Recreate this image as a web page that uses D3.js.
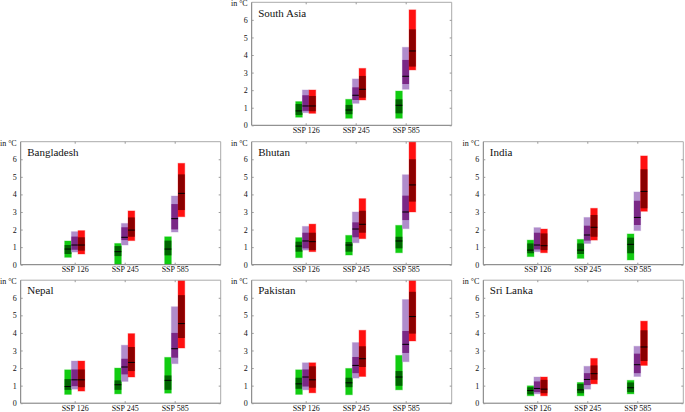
<!DOCTYPE html>
<html>
<head>
<meta charset="utf-8">
<script src="https://cdn.jsdelivr.net/npm/d3@7"></script>
<style>
  html, body { margin: 0; padding: 0; background: #fff; }
  svg { display: block; }
  svg text { font-family: "Liberation Serif", "Times New Roman", Times, serif !important; fill: #111; }
</style>
</head>
<body>
<svg id="chart" width="685" height="412"></svg>
<script>
// ---- data ----
const scenarios = ["SSP 126", "SSP 245", "SSP 585"];
const periods = ["near", "mid", "long"];
const yTicks = [0, 1, 2, 3, 4, 5, 6];
const unitLabel = "in °C";
const regions = ["South Asia", "Bangladesh", "Bhutan", "India", "Nepal", "Pakistan", "Sri Lanka"];

// each: per scenario, per period: [outerLo, innerLo, median, innerHi, outerHi]
const southAsia = [
  [[0.46, 0.59, 0.82, 1.21, 1.35], [0.72, 0.82, 1.10, 1.71, 2.01], [0.68, 0.80, 1.10, 1.67, 2.01]],
  [[0.40, 0.63, 0.87, 1.16, 1.48], [1.25, 1.44, 1.71, 2.16, 2.64], [1.44, 1.57, 2.05, 2.81, 3.24]],
  [[0.40, 0.68, 1.14, 1.48, 1.95], [2.05, 2.35, 2.79, 3.72, 4.44], [3.15, 3.34, 4.23, 5.46, 6.57]]
];
const bangladesh = [
  [[0.42, 0.61, 0.89, 1.12, 1.35], [0.72, 0.85, 1.12, 1.60, 1.88], [0.61, 0.80, 1.12, 1.56, 1.94]],
  [[0.00, 0.49, 0.74, 1.06, 1.21], [1.12, 1.40, 1.56, 2.13, 2.35], [1.37, 1.59, 1.97, 2.69, 3.06]],
  [[0.00, 0.53, 0.89, 1.37, 1.59], [1.86, 2.01, 2.62, 3.45, 3.91], [2.73, 3.11, 4.06, 5.14, 5.77]]
];
const bhutan = [
  [[0.40, 0.74, 1.06, 1.31, 1.54], [0.83, 0.93, 1.35, 1.82, 2.18], [0.74, 0.83, 1.31, 1.82, 2.31]],
  [[0.55, 0.74, 1.12, 1.29, 1.67], [1.25, 1.56, 2.03, 2.41, 3.00], [1.48, 1.82, 2.30, 3.07, 3.76]],
  [[0.68, 0.93, 1.35, 1.59, 2.24], [2.05, 2.54, 3.00, 3.93, 5.12], [3.00, 3.59, 4.54, 6.00, 7.20]]
];
const india = [
  [[0.46, 0.65, 0.83, 1.21, 1.40], [0.74, 0.87, 1.12, 1.82, 2.11], [0.68, 0.83, 1.08, 1.78, 2.03]],
  [[0.36, 0.61, 0.83, 1.21, 1.44], [1.21, 1.37, 1.69, 2.22, 2.69], [1.40, 1.59, 2.13, 2.83, 3.21]],
  [[0.27, 0.65, 1.16, 1.54, 1.75], [1.94, 2.26, 2.69, 3.64, 4.14], [3.04, 3.21, 4.17, 5.43, 6.19]]
];
const nepal = [
  [[0.50, 0.76, 0.95, 1.37, 1.90], [0.80, 0.97, 1.33, 1.92, 2.40], [0.69, 0.91, 1.33, 1.92, 2.40]],
  [[0.53, 0.76, 1.05, 1.30, 2.00], [1.24, 1.64, 2.06, 2.53, 3.30], [1.49, 1.83, 2.32, 3.20, 3.96]],
  [[0.57, 0.76, 1.30, 1.58, 2.61], [2.25, 2.59, 3.10, 4.00, 5.49], [3.14, 3.71, 4.53, 6.15, 7.20]]
];
const pakistan = [
  [[0.50, 0.82, 1.10, 1.45, 1.90], [0.76, 0.95, 1.49, 1.92, 2.30], [0.59, 0.88, 1.33, 2.10, 2.30]],
  [[0.48, 0.91, 1.16, 1.45, 1.98], [1.43, 1.71, 2.15, 2.63, 3.45], [1.52, 2.06, 2.53, 3.24, 4.15]],
  [[0.76, 0.99, 1.49, 1.83, 2.72], [2.36, 2.86, 3.35, 4.11, 5.90], [3.54, 3.96, 4.93, 6.34, 7.20]]
];
const sriLanka = [
  [[0.42, 0.50, 0.72, 0.91, 0.99], [0.53, 0.63, 0.84, 1.24, 1.49], [0.42, 0.57, 0.80, 1.33, 1.49]],
  [[0.42, 0.57, 0.76, 1.10, 1.18], [0.80, 1.03, 1.35, 1.71, 2.10], [1.10, 1.33, 1.68, 2.15, 2.55]],
  [[0.53, 0.63, 0.88, 1.18, 1.30], [1.52, 1.71, 2.19, 2.82, 3.24], [2.15, 2.40, 3.20, 4.15, 4.67]]
];
const regionData = [southAsia, bangladesh, bhutan, india, nepal, pakistan, sriLanka];

// ---- style / layout ----
const fontStack = '"Liberation Serif", "Times New Roman", Times, serif';
const outerColors = ["#11cc11", "#b08ccb", "#ff1010"];
const innerColors = ["#006400", "#7a2886", "#8b0000"];
const panelW = 200, panelH = 123;
const panelPos = [
  [251.7, 2.3], [20.7, 141.7], [251.7, 141.7], [483.3, 141.7],
  [20.7, 280.2], [251.7, 280.2], [483.3, 280.2]
];
const barW = 6.7;

const svg = d3.select("#chart");
svg.append("rect").attr("width", 685).attr("height", 412).attr("fill", "#fff");

const x = d3.scaleLinear().domain([-0.08, 3.92]).range([0, panelW]);
const y = d3.scaleLinear().domain([0, 7]).range([panelH, 0]);
const offsets = [-barW, 0, barW];

regions.forEach((name, ri) => {
  const [px, py] = panelPos[ri];
  const g = svg.append("g").attr("transform", `translate(${px},${py})`);
  const clipId = "clip" + ri;
  g.append("clipPath").attr("id", clipId)
    .append("rect").attr("width", panelW).attr("height", panelH);

  // bars
  const bars = g.append("g").attr("clip-path", `url(#${clipId})`);
  regionData[ri].forEach((scen, si) => {
    scen.forEach((v, pi) => {
      const cx = x(si + 1) + offsets[pi];
      const x0 = cx - barW / 2;
      bars.append("rect")
        .attr("x", x0).attr("width", barW)
        .attr("y", y(v[4])).attr("height", y(v[0]) - y(v[4]))
        .attr("fill", outerColors[pi])
        .attr("stroke", outerColors[pi]).attr("stroke-opacity", 0.35).attr("stroke-width", 1);
      bars.append("rect")
        .attr("x", x0).attr("width", barW)
        .attr("y", y(v[3])).attr("height", y(v[1]) - y(v[3]))
        .attr("fill", innerColors[pi]);
      bars.append("line")
        .attr("x1", x0).attr("x2", x0 + barW)
        .attr("y1", y(v[2])).attr("y2", y(v[2]))
        .attr("stroke", "#000").attr("stroke-width", 1);
    });
  });

  // frame
  g.append("line").attr("x1", 0).attr("x2", panelW).attr("y1", 0).attr("y2", 0).attr("stroke", "#aaa");
  g.append("line").attr("x1", panelW).attr("x2", panelW).attr("y1", 0).attr("y2", panelH).attr("stroke", "#aaa");
  g.append("line").attr("x1", 0).attr("x2", 0).attr("y1", 0).attr("y2", panelH).attr("stroke", "#777");
  g.append("line").attr("x1", 0).attr("x2", panelW).attr("y1", panelH).attr("y2", panelH).attr("stroke", "#777");

  // axes
  const yl = g.append("g").call(d3.axisLeft(y).tickValues(yTicks).tickSize(-2).tickPadding(4).tickFormat(d3.format("d")));
  const yr = g.append("g").attr("transform", `translate(${panelW},0)`)
    .call(d3.axisRight(y).tickValues(yTicks).tickSize(-2).tickFormat(""));
  const xt = g.append("g").call(d3.axisTop(x).tickValues([1, 2, 3]).tickSize(-2).tickFormat(""));
  const xb = g.append("g").attr("transform", `translate(0,${panelH})`)
    .call(d3.axisBottom(x).tickValues([1, 2, 3]).tickSize(-2).tickPadding(2).tickFormat((d) => scenarios[d - 1]));
  [yl, yr, xt, xb].forEach(a => {
    a.attr("font-family", fontStack);
    a.select(".domain").remove();
    a.selectAll(".tick line").attr("stroke", "#999");
    a.selectAll("text").attr("font-size", 8).attr("fill", "#111").attr("font-family", fontStack);
  });

  g.append("text").attr("x", -4).attr("y", 4).attr("text-anchor", "end")
    .attr("font-family", fontStack).attr("font-size", 8).text(unitLabel);
  g.append("text").attr("x", 6.5).attr("y", 14.3)
    .attr("font-family", fontStack).attr("font-size", 11).text(name);
});
</script>
</body>
</html>
